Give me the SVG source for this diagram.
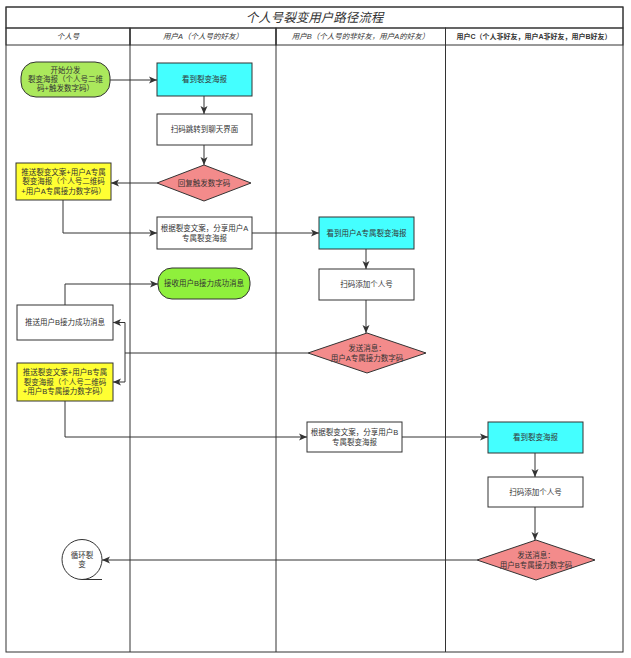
<svg xmlns="http://www.w3.org/2000/svg" width="631" height="658" viewBox="0 0 631 658">
<style>
text{font-family:"Liberation Sans","Noto Sans CJK SC",sans-serif;fill:#333;font-size:7.5px;text-anchor:middle;dominant-baseline:central}
.hd{font-style:italic}
.hb{font-weight:bold}
.ttl{font-size:12.5px;font-style:italic}
.n{stroke:#333;stroke-width:1}
.w{fill:#fff}
.cy{fill:#44ffff}
.ye{fill:#ffff33}
.pk{fill:#f38b8b}
.g1{fill:#abe85c}
.g2{fill:#8ff03c}
.c{fill:none;stroke:#333;stroke-width:1}
.ln{stroke:#333;stroke-width:1;fill:none}
</style>
<defs>
<marker id="ar" markerWidth="9" markerHeight="8" refX="8" refY="4" orient="auto" markerUnits="userSpaceOnUse">
<path d="M0,0.5 L8,4 L0,7.5 L2,4 z" fill="#333"/>
</marker>
</defs>
<rect width="631" height="658" fill="#fff"/>
<g id="frame">
<rect x="6" y="7" width="617" height="21" fill="#e5ccff" class="ln"/>
<rect x="6" y="28" width="124" height="17" fill="#cce5ff" class="ln"/>
<rect x="130" y="28" width="146" height="17" fill="#ff99cc" class="ln"/>
<rect x="276" y="28" width="169.5" height="17" fill="#ccff99" class="ln"/>
<rect x="445.5" y="28" width="177.5" height="17" fill="#99ff99" class="ln"/>
<rect x="6" y="7" width="617" height="645" class="ln"/>
<line x1="130" y1="28" x2="130" y2="652" class="ln"/>
<line x1="276" y1="28" x2="276" y2="652" class="ln"/>
<line x1="445.5" y1="28" x2="445.5" y2="652" class="ln"/>
<text x="314.5" y="17.5" class="ttl">个人号裂变用户路径流程</text>
<text x="68" y="36.5" class="hd">个人号</text>
<text x="203" y="36.5" class="hd">用户A（个人号的好友）</text>
<text x="360.5" y="36.5" class="hd">用户B（个人号的非好友，用户A的好友）</text>
<text x="534" y="36.5" class="hb" style="font-size:7px">用户C（个人非好友，用户A非好友，用户B好友）</text>
</g>
<g id="connectors">
<path class="c" d="M110,80 H157" marker-end="url(#ar)"/>
<path class="c" d="M204,96 V114" marker-end="url(#ar)"/>
<path class="c" d="M204,145 V165" marker-end="url(#ar)"/>
<path class="c" d="M157,183 H111" marker-end="url(#ar)"/>
<path class="c" d="M63,200 V233 H157" marker-end="url(#ar)"/>
<path class="c" d="M252,233 H319" marker-end="url(#ar)"/>
<path class="c" d="M366,249 V269" marker-end="url(#ar)"/>
<path class="c" d="M366,300 V333" marker-end="url(#ar)"/>
<path class="c" d="M308,353 H125 V322.5 H113" marker-end="url(#ar)"/>
<path class="c" d="M125,353 V382 H113" marker-end="url(#ar)"/>
<path class="c" d="M65,305 V284 H158" marker-end="url(#ar)"/>
<path class="c" d="M65,401 V437 H307" marker-end="url(#ar)"/>
<path class="c" d="M402,437 H488" marker-end="url(#ar)"/>
<path class="c" d="M535,453 V477" marker-end="url(#ar)"/>
<path class="c" d="M535,507 V540" marker-end="url(#ar)"/>
<path class="c" d="M477,560 H102" marker-end="url(#ar)"/>
</g>
<g id="n-start"><rect x="21" y="62" width="89" height="35" rx="15" class="n g1"/>
<text x="65.5" y="70.5">开始分发</text><text x="65.5" y="79.5">裂变海报（个人号二维</text><text x="65.5" y="88.5">码+触发数字码）</text></g>
<g id="n-a-see"><rect x="157" y="63" width="95" height="33" class="n cy"/><text x="204.5" y="79.5">看到裂变海报</text></g>
<g id="n-a-scan"><rect x="157" y="114" width="95" height="31" class="n w"/><text x="204.5" y="129.5">扫码跳转到聊天界面</text></g>
<g id="n-a-reply"><polygon points="204,165 251,183 204,201 157,183" class="n pk"/><text x="204" y="183">回复触发数字码</text></g>
<g id="n-push-a"><rect x="16" y="163" width="95" height="37" class="n ye"/>
<text x="63.5" y="172">推送裂变文案+用户A专属</text><text x="63.5" y="181.5">裂变海报（个人号二维码</text><text x="63.5" y="191">+用户A专属接力数字码）</text></g>
<g id="n-a-share"><rect x="157" y="217" width="95" height="32" class="n w"/>
<text x="204.5" y="228.5">根据裂变文案，分享用户A</text><text x="204.5" y="238">专属裂变海报</text></g>
<g id="n-b-see"><rect x="319" y="217" width="95" height="32" class="n cy"/><text x="366.5" y="233">看到用户A专属裂变海报</text></g>
<g id="n-b-scan"><rect x="319" y="269" width="95" height="31" class="n w"/><text x="366.5" y="284.5">扫码添加个人号</text></g>
<g id="n-b-send"><polygon points="367,333 426,353 367,373 308,353" class="n pk"/>
<text x="367" y="348.5">发送消息：</text><text x="367" y="358">用户A专属接力数字码</text></g>
<g id="n-a-recv"><rect x="158" y="268" width="92" height="31" rx="14" class="n g2"/><text x="204" y="283.5">接收用户B接力成功消息</text></g>
<g id="n-push-succ"><rect x="17" y="305" width="96" height="35" class="n w"/><text x="65" y="322.5">推送用户B接力成功消息</text></g>
<g id="n-push-b"><rect x="17" y="363" width="96" height="38" class="n ye"/>
<text x="65" y="372.5">推送裂变文案+用户B专属</text><text x="65" y="382">裂变海报（个人号二维码</text><text x="65" y="391.5">+用户B专属接力数字码）</text></g>
<g id="n-b-share"><rect x="307" y="422" width="95" height="30" class="n w"/>
<text x="354.5" y="432.5">根据裂变文案，分享用户B</text><text x="354.5" y="442">专属裂变海报</text></g>
<g id="n-c-see"><rect x="488" y="422" width="95" height="31" class="n cy"/><text x="535.5" y="437.5">看到裂变海报</text></g>
<g id="n-c-scan"><rect x="488" y="477" width="95" height="30" class="n w"/><text x="535.5" y="492">扫码添加个人号</text></g>
<g id="n-c-send"><polygon points="536,540 595,560 536,580 477,560" class="n pk"/>
<text x="536" y="555.5">发送消息：</text><text x="536" y="565">用户B专属接力数字码</text></g>
<g id="n-loop"><circle cx="82" cy="559.5" r="20" class="n w"/><line x1="82" y1="579.5" x2="102" y2="579.5" class="ln"/>
<text x="82" y="555">循环裂</text><text x="82" y="564.5">变</text></g>
</svg>
